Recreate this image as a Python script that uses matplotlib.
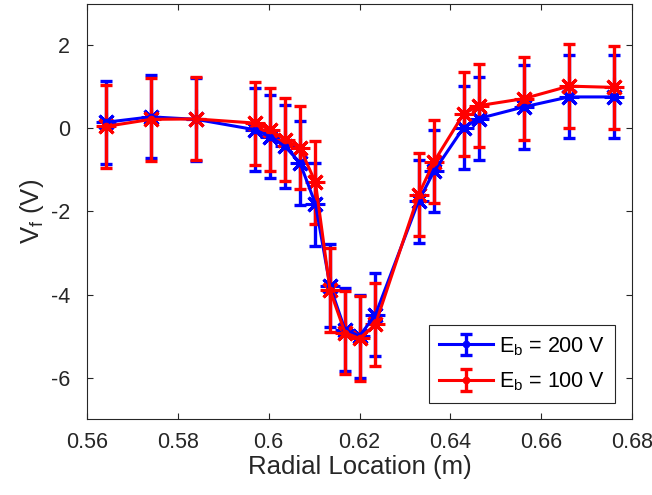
import matplotlib.pyplot as plt
import numpy as np

plt.rcParams['font.family'] = ['Liberation Sans', 'DejaVu Sans']
plt.rcParams['axes.unicode_minus'] = False

# radial positions (m)
r_200 = [0.5642, 0.5741, 0.5840, 0.5970, 0.6003, 0.6036, 0.6069, 0.6103, 0.6135, 0.6168,
         0.6200, 0.6235, 0.6330, 0.6364, 0.6429, 0.6463, 0.6562, 0.6661, 0.6760]
vf_200 = [0.15, 0.28, 0.22, -0.03, -0.20, -0.43, -0.83, -1.82, -3.79, -4.85,
          -5.00, -4.49, -1.75, -1.03, 0.02, 0.24, 0.52, 0.76, 0.76]
err_200 = [1.0, 1.0, 1.0, 1.0, 1.0, 1.0, 1.01, 1.0, 1.0, 1.0,
           1.0, 1.0, 1.0, 0.99, 1.0, 1.0, 1.01, 1.0, 1.0]

r_100 = r_200
vf_100 = [0.05, 0.22, 0.23, 0.13, -0.03, -0.27, -0.47, -1.30, -3.89, -4.92,
          -5.06, -4.72, -1.60, -0.80, 0.35, 0.55, 0.72, 1.02, 0.99]
err_100 = [1.0, 1.0, 1.0, 1.0, 1.0, 1.0, 1.0, 1.0, 1.01, 1.0,
           1.03, 1.0, 1.0, 1.0, 1.02, 1.0, 1.0, 1.01, 1.0]

fig = plt.figure(figsize=(6.52, 4.95), dpi=100)
ax = fig.add_axes([0.1334, 0.1535, 0.836, 0.8385])

star = (8, 2, 0)
for r, v, e, c, lab in [(r_200, vf_200, err_200, 'b', '$\\mathregular{E_b}$ = 200 V'),
                        (r_100, vf_100, err_100, 'r', '$\\mathregular{E_b}$ = 100 V')]:
    ax.errorbar(r, v, yerr=e, color=c, lw=2.2, elinewidth=2.4, capsize=4.5, capthick=2.4,
                marker='.', ms=9, label=lab)
    ax.plot(r, v, ls='none', marker=star, ms=14, mew=2.2, color=c)

ax.set_xlim(0.56, 0.68)
ax.set_ylim(-7, 3)
ax.set_xticks(np.arange(0.56, 0.6801, 0.02))
ax.set_xticklabels(['0.56', '0.58', '0.6', '0.62', '0.64', '0.66', '0.68'])
ax.set_yticks([-6, -4, -2, 0, 2])
ax.tick_params(labelsize=15.5, direction='in', top=True, right=True, length=4, width=0.8,
               colors='#262626')
ax.tick_params(axis='x', pad=9)
ax.tick_params(axis='y', pad=12)
for s in ax.spines.values():
    s.set_color('#262626')
    s.set_linewidth(0.8)
ax.set_xlabel('Radial Location (m)', fontsize=18.5, color='#262626', labelpad=2)
ax.set_ylabel('$\\mathregular{V_f}$ (V)', fontsize=18.5, color='#262626', labelpad=4)

leg = ax.legend(loc='lower right', fontsize=15.5, fancybox=False, edgecolor='#262626',
                framealpha=1, borderpad=0.45, handlelength=2.5, handletextpad=0.3,
                labelspacing=0.6, borderaxespad=0, bbox_to_anchor=(0.969, 0.039))
leg.get_frame().set_linewidth(0.8)

fig.savefig('out.png', dpi=100)
